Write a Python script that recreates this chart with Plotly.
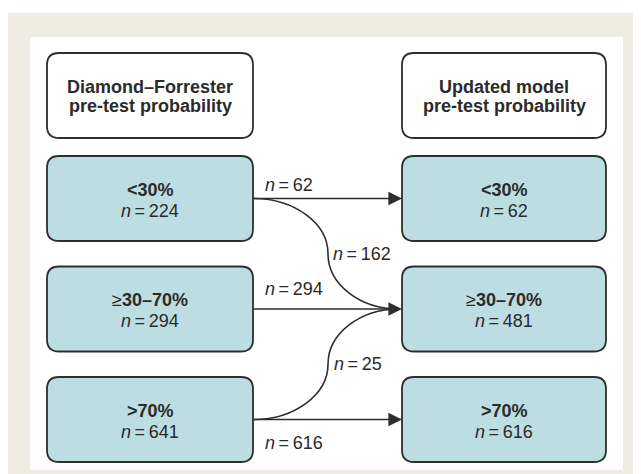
import html
import plotly.graph_objects as go

# ---------------- data ----------------
headers = ["Diamond–Forrester<br>pre-test probability", "Updated model<br>pre-test probability"]
categories = ["<30%", "≥30–70%", ">70%"]
left_counts = [224, 294, 641]      # Diamond–Forrester
right_counts = [62, 481, 616]      # Updated model
flow_from = [0, 0, 1, 2, 2]
flow_to = [0, 1, 1, 1, 2]
flow_counts = [62, 162, 294, 25, 616]

# ---------------- layout / style ----------------
W, H = 641, 474
OFF = 8   # default page body margin
FONT = "Liberation Sans, Arial, Helvetica, sans-serif"
TXT = "#2b2b2b"
EDGE = "#2e2e2e"
BLUE = "#bcdde2"
BEIGE = "#eeebe1"

col_x = [(47, 253), (402, 606)]          # left / right column extents
header_y = (53, 138)
row_top0, row_pitch, row_h = 156, 110.5, 85
curve_mid_x = 328
label_pos = [(263, -14), (331, None), (263, -20), (332, None), (263, 23)]


def row_span(i):
    t = row_top0 + i * row_pitch
    return t, t + row_h


def row_center(i):
    t, b = row_span(i)
    return (t + b) / 2


def rounded(x0, y0, x1, y1, r=12):
    return (f"M {x0+r},{y0} L {x1-r},{y0} Q {x1},{y0} {x1},{y0+r} "
            f"L {x1},{y1-r} Q {x1},{y1} {x1-r},{y1} L {x0+r},{y1} "
            f"Q {x0},{y1} {x0},{y1-r} L {x0},{y0+r} Q {x0},{y0} {x0+r},{y0} Z")


def cat_label(c):
    if c.startswith("≥"):
        return "≥<b>" + html.escape(c[1:]) + "</b>"
    return "<b>" + html.escape(c) + "</b>"


def n_label(v):
    return f"<i>n</i>\u2009=\u2009{v}"


shapes = []
annotations = []

# background panels
shapes.append(dict(type="rect", x0=7, y0=13, x1=W + 2, y1=H + 2, fillcolor=BEIGE,
                   line=dict(width=0), layer="below"))
shapes.append(dict(type="rect", x0=30, y0=37, x1=623, y1=470, fillcolor="white",
                   line=dict(width=0), layer="below"))

# headers
for k, htxt in enumerate(headers):
    x0, x1 = col_x[k]
    y0, y1 = header_y
    shapes.append(dict(type="path", path=rounded(x0, y0, x1, y1), fillcolor="white",
                       line=dict(color=EDGE, width=1.8)))
    cy = (y0 + y1) / 2
    for j, line in enumerate(htxt.split("<br>")):
        annotations.append(dict(x=(x0 + x1) / 2, y=cy - 9 + j * 19.5, text=f"<b>{line}</b>",
                                showarrow=False, xanchor="center", yanchor="middle",
                                font=dict(family=FONT, size=18, color=TXT)))

# category boxes
for k, counts in enumerate([left_counts, right_counts]):
    x0, x1 = col_x[k]
    for i, (c, v) in enumerate(zip(categories, counts)):
        y0, y1 = row_span(i)
        shapes.append(dict(type="path", path=rounded(x0, y0, x1, y1), fillcolor=BLUE,
                           line=dict(color=EDGE, width=1.8)))
        cy = row_center(i)
        annotations.append(dict(x=(x0 + x1) / 2, y=cy - 9, text=cat_label(c), showarrow=False,
                                xanchor="center", yanchor="middle",
                                font=dict(family=FONT, size=18, color=TXT)))
        annotations.append(dict(x=(x0 + x1) / 2, y=cy + 12, text=n_label(v), showarrow=False,
                                xanchor="center", yanchor="middle",
                                font=dict(family=FONT, size=18, color=TXT)))

# flows
xs = col_x[0][1]
xe = col_x[1][0]
tip_len = 11
k = 0.552
arrow_targets = set()
for idx, (a, b, v) in enumerate(zip(flow_from, flow_to, flow_counts)):
    ya, yb = row_center(a), row_center(b)
    if a == b:
        shapes.append(dict(type="line", x0=xs, y0=ya, x1=xe - 5, y1=yb,
                           line=dict(color=EDGE, width=1.6)))
        lx, dy = label_pos[idx]
        ly = ya + dy
    else:
        ym = (ya + yb) / 2
        rx1 = curve_mid_x - xs
        rx2 = (xe - 3) - curve_mid_x
        ry = ym - ya
        p = (f"M {xs},{ya} C {xs + k*rx1},{ya} {curve_mid_x},{ym - k*ry} {curve_mid_x},{ym} "
             f"C {curve_mid_x},{ym + k*ry} {xe - 3 - k*rx2},{yb} {xe - 3},{yb}")
        shapes.append(dict(type="path", path=p, line=dict(color=EDGE, width=1.6)))
        lx = label_pos[idx][0]
        ly = ym
    arrow_targets.add(b)
    annotations.append(dict(x=lx, y=ly, text=n_label(v), showarrow=False,
                            xanchor="left", yanchor="middle",
                            font=dict(family=FONT, size=18, color=TXT)))

for b in sorted(arrow_targets):
    yb = row_center(b)
    annotations.append(dict(x=xe, y=yb, ax=xe - tip_len - 2, ay=yb, axref="x", ayref="y",
                            xref="x", yref="y", text="", showarrow=True, arrowhead=2,
                            arrowsize=1.7, arrowwidth=1.6, arrowcolor=EDGE, standoff=0))

fig = go.Figure()
fig.add_trace(go.Scatter(x=[OFF, W], y=[OFF, H], mode="markers", marker=dict(opacity=0),
                         hoverinfo="skip", showlegend=False))
fig.update_layout(
    width=W - OFF, height=H - OFF, margin=dict(l=0, r=0, t=0, b=0, pad=0),
    paper_bgcolor="white", plot_bgcolor="white",
    xaxis=dict(range=[OFF, W], visible=False, fixedrange=True),
    yaxis=dict(range=[H, OFF], visible=False, fixedrange=True),
    shapes=shapes, annotations=annotations, showlegend=False,
)
fig.write_html("out.html")
